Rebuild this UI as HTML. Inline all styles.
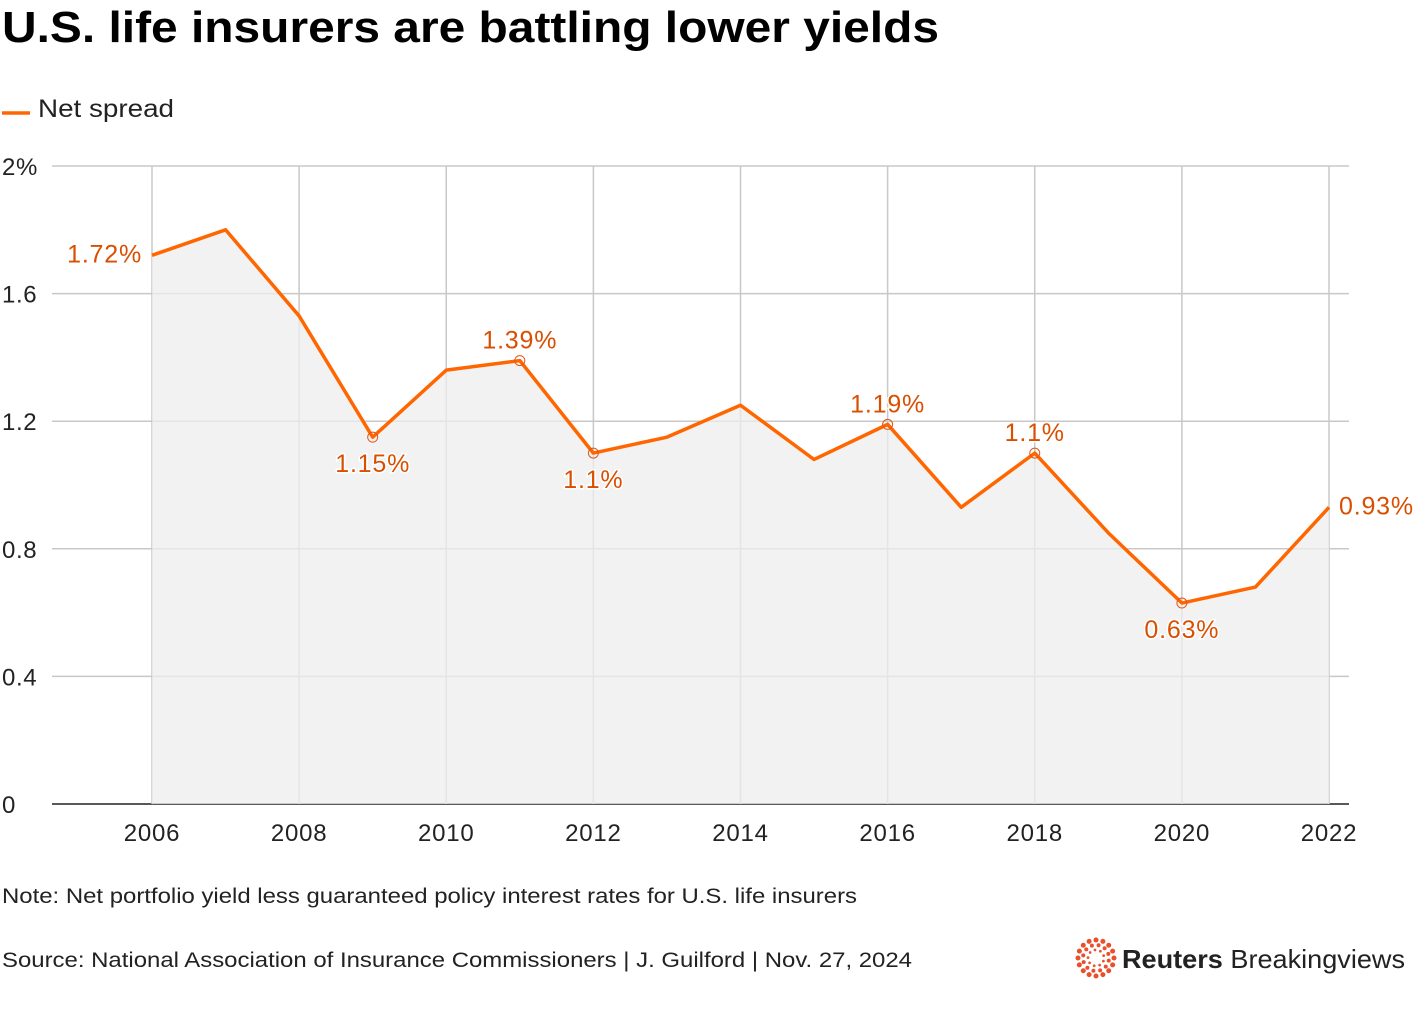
<!DOCTYPE html>
<html><head><meta charset="utf-8"><style>
body{margin:0;width:1420px;height:1008px;background:#fff;font-family:"Liberation Sans",sans-serif;overflow:hidden}
</style></head><body>
<svg width="1420" height="1008" xmlns="http://www.w3.org/2000/svg" font-family="Liberation Sans, sans-serif">
<text x="2" y="42" font-size="44" font-weight="bold" fill="#000" textLength="937" lengthAdjust="spacingAndGlyphs">U.S. life insurers are battling lower yields</text>
<line x1="2" y1="113" x2="30" y2="113" stroke="#ff6600" stroke-width="3.5"/>
<text x="38" y="117" font-size="25" fill="#222" textLength="136" lengthAdjust="spacingAndGlyphs">Net spread</text>
<g id="grid"></g>
<g id="area"></g>
<g id="marks"></g>
<text x="2" y="903" font-size="21" fill="#222" textLength="855" lengthAdjust="spacingAndGlyphs">Note: Net portfolio yield less guaranteed policy interest rates for U.S. life insurers</text>
<text x="2" y="967" font-size="21" fill="#222" textLength="910" lengthAdjust="spacingAndGlyphs">Source: National Association of Insurance Commissioners | J. Guilford | Nov. 27, 2024</text>
<g id="logo"></g>
<text x="1122" y="968" font-size="26" fill="#222" textLength="283" lengthAdjust="spacingAndGlyphs"><tspan font-weight="bold">Reuters</tspan> Breakingviews</text>
</svg>
<script>
const years=[2006,2007,2008,2009,2010,2011,2012,2013,2014,2015,2016,2017,2018,2019,2020,2021,2022];
const values=[1.72,1.80,1.53,1.15,1.36,1.39,1.10,1.15,1.25,1.08,1.19,0.93,1.10,0.85,0.63,0.68,0.93];
const yTicks=[0,0.4,0.8,1.2,1.6,2];
const yTickLabels=["0","0.4","0.8","1.2","1.6","2%"];
const xTicks=[2006,2008,2010,2012,2014,2016,2018,2020,2022];
const labeled=[2006,2009,2011,2012,2016,2018,2020,2022];
const labelText=["1.72%","1.15%","1.39%","1.1%","1.19%","1.1%","0.63%","0.93%"];
const NS="http://www.w3.org/2000/svg";
const X=y=>152+(y-2006)*(1329-152)/16;
const Y=v=>804-v*(804-166)/2;
function mk(tag,attrs,parent){const e=document.createElementNS(NS,tag);for(const k in attrs)e.setAttribute(k,attrs[k]);parent.appendChild(e);return e;}
const grid=document.getElementById('grid'),area=document.getElementById('area'),marks=document.getElementById('marks');
yTicks.forEach((t,i)=>{
 const l=mk('line',{x1:52,x2:1349,y1:Y(t),y2:Y(t),stroke:t===0?'#222':'#c8c8c8','stroke-width':1.5},grid);
 
 
 const tx=mk('text',{x:2,y:Y(t)+9,'font-size':24,fill:'#222','letter-spacing':0.6},grid);tx.textContent=yTickLabels[i];
 
 
});
xTicks.forEach(t=>{
 const l=mk('line',{x1:X(t),x2:X(t),y1:166,y2:804,stroke:'#c8c8c8','stroke-width':1.5},grid);
 
 
 const tx=mk('text',{x:X(t),y:841,'font-size':24,fill:'#222','text-anchor':'middle','letter-spacing':0.8},grid);tx.textContent=t;
 
 
});
let pts=years.map((y,i)=>X(y)+','+Y(values[i]));
const ar=mk('polygon',{points:X(years[0])+','+Y(0)+' '+pts.join(' ')+' '+X(years[years.length-1])+','+Y(0),fill:'#eee','fill-opacity':0.75},area);


const ln=mk('polyline',{points:pts.join(' '),fill:'none',stroke:'#ff6600','stroke-width':3.5,'stroke-linejoin':'round'},marks);


labeled.forEach((y,j)=>{
 const i=years.indexOf(y),v=values[i],cx=X(y),cy=Y(v);
 if(j>0&&j<labeled.length-1){
  const c=mk('circle',{cx:cx,cy:cy,r:5,fill:'none',stroke:'#e0541a','stroke-width':1},marks);
  
  
 }
 const prev=values[i-1],next=values[i+1];
 let below=(prev!==undefined&&next!==undefined&&prev>v&&next>v);
 let x=cx,y2=below?cy+35:cy-12,anchor='middle';
 if(j===0){x=cx-10;y2=cy+7;anchor='end';}
 if(j===labeled.length-1){x=cx+10;y2=cy+7;anchor='start';}
 const t=mk('text',{x:x,y:y2,'font-size':25,fill:'#d94f00','text-anchor':anchor,'letter-spacing':0.8,stroke:'#fff','stroke-width':3,'paint-order':'stroke'},marks);
 t.textContent=labelText[j];
 
 
});
const logo=document.getElementById('logo');
[[18,4],[13,3.2],[8,2.2]].forEach(([r,s],k)=>{
 const n=k===0?16:k===1?12:9;
 for(let a=0;a<n;a++){const ang=a/n*2*Math.PI+k*0.2;
  const d=mk('circle',{cx:1096+r*Math.cos(ang),cy:958+r*Math.sin(ang),r:s/1.6,fill:'#e8502b'},logo);
  
  }
});
</script>
</body></html>
